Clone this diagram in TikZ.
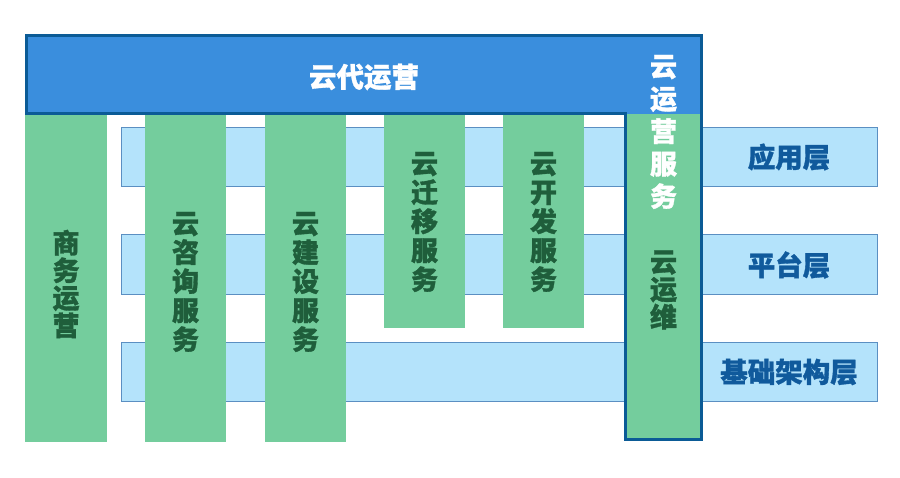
\documentclass[tikz,border=0pt]{standalone}
\usepackage{fontspec}
\setmainfont{Noto Sans CJK SC}
\newfontfamily\cjk{Noto Sans CJK SC}[BoldFeatures={FakeBold=1.2}]
\definecolor{topblue}{HTML}{3A8EDD}
\definecolor{edgeblue}{HTML}{0B5B96}
\definecolor{colgreen}{HTML}{74CD9D}
\definecolor{darkgreen}{HTML}{1F5E3B}
\definecolor{layerfill}{HTML}{B4E3FB}
\definecolor{layeredge}{HTML}{5B8FC2}
\definecolor{layertext}{HTML}{105A9C}
\tikzset{
  layerbar/.style={draw=layeredge, line width=0.8pt, fill=layerfill},
  colbox/.style={fill=colgreen},
  vtext/.style={align=center, text=darkgreen, font=\cjk\bfseries\fontsize{27}{29}\selectfont, inner sep=0pt},
  layertxt/.style={text=layertext, font=\cjk\bfseries\fontsize{27.5}{29}\selectfont, inner sep=0pt},
}
\begin{document}
\begin{tikzpicture}[x=1pt,y=-1pt]
\useasboundingbox (0,0) rectangle (900,478);
\fill[white] (0,0) rectangle (900,478);
% layer bars
\draw[layerbar] (121,127) rectangle (877,186);
\draw[layerbar] (121,234) rectangle (877,294);
\draw[layerbar] (121,342) rectangle (877,401);
% green columns
\fill[colbox] (25,114) rectangle (107,442);
\fill[colbox] (145,114) rectangle (226,442);
\fill[colbox] (265,114) rectangle (346,442);
\fill[colbox] (384,114) rectangle (465,328);
\fill[colbox] (503,114) rectangle (584,328);
\fill[colbox] (625,114) rectangle (702,439);
% top blue band
\fill[topblue] (26.5,36) rectangle (701.5,114);
% outline of L shape
\draw[edgeblue, line width=3pt, line join=miter]
  (26.5,36) -- (701.5,36) -- (701.5,439) -- (625.5,439) -- (625.5,114) -- (26.5,114) -- cycle;
% texts
\node[text=white, font=\cjk\bfseries\fontsize{27.5}{29}\selectfont, inner sep=0pt] (yddy) at (364,77) {云代运营};
\node[vtext, font=\cjk\bfseries\fontsize{27}{27.5}\selectfont] (swyy) at (66,284) {商\\务\\运\\营};
\node[vtext] (zx) at (185.5,282) {云\\咨\\询\\服\\务};
\node[vtext] (js) at (305.5,282) {云\\建\\设\\服\\务};
\node[vtext] (qy) at (424.5,222) {云\\迁\\移\\服\\务};
\node[vtext] (kf) at (543.5,222) {云\\开\\发\\服\\务};
\node[vtext, text=white, font=\cjk\bfseries\fontsize{27}{32.5}\selectfont] (yyyfw) at (663.5,132) {云\\运\\营\\服\\务};
\node[vtext, font=\cjk\bfseries\fontsize{27}{27.5}\selectfont] (yyw) at (663.5,290) {云\\运\\维};
\node[layertxt] (yyc) at (789,157) {应用层};
\node[layertxt] (ptc) at (789,265) {平台层};
\node[layertxt] (jcc) at (789,372) {基础架构层};
\end{tikzpicture}
\end{document}
